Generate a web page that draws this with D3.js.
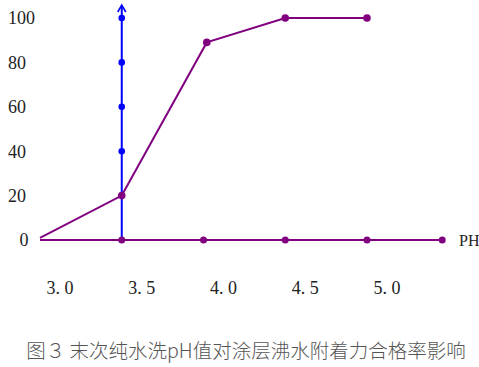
<!DOCTYPE html>
<html>
<head>
<meta charset="utf-8">
<script src="https://cdn.jsdelivr.net/npm/d3@7"></script>
<style>
  html, body { margin: 0; padding: 0; background: #fff; }
  svg { display: block; }
  .serif { font-family: "Liberation Serif", "Times New Roman", "DejaVu Serif", serif; }
  .cjk { font-family: "Noto Sans CJK SC", sans-serif; }
</style>
</head>
<body>
<svg id="chart" width="479" height="367"></svg>
<script>
// ---- data ----
const linePH = [3.0, 3.5, 4.02, 4.5, 5.0];
const lineRate = [1, 20, 89, 100, 100];
const basePH = [3.0, 3.5, 4.0, 4.5, 5.0, 5.46];
const baseDotPH = [3.5, 4.0, 4.5, 5.0, 5.46];
const axisDotValues = [100, 80, 60, 40];
const yTickValues = [100, 80, 60, 40, 20, 0];
const xTickValues = [3.0, 3.5, 4.0, 4.5, 5.0];
const xTickLabels = ["3. 0", "3. 5", "4. 0", "4. 5", "5. 0"];
const xAxisName = "PH";
const title = "图３ 末次纯水洗pH值对涂层沸水附着力合格率影响";

const purple = "#800080";
const blue = "#0000ff";

const svg = d3.select("#chart");
const x = d3.scaleLinear().domain([3.0, 5.0]).range([40, 367]);
const y = d3.scaleLinear().domain([0, 100]).range([240, 18]);

// baseline
svg.append("line")
  .attr("x1", x(d3.min(basePH))).attr("x2", x(d3.max(basePH)))
  .attr("y1", y(0)).attr("y2", y(0))
  .attr("stroke", purple).attr("stroke-width", 2);

// vertical blue axis at pH 3.5
const ax = x(3.5);
svg.append("line")
  .attr("x1", ax).attr("x2", ax)
  .attr("y1", y(0)).attr("y2", 6)
  .attr("stroke", blue).attr("stroke-width", 2);
svg.append("path")
  .attr("d", `M${ax - 4},${12} L${ax},${5} L${ax + 4},${12}`)
  .attr("fill", "none").attr("stroke", blue).attr("stroke-width", 1.6);
svg.selectAll(".adot").data(axisDotValues).enter().append("circle")
  .attr("cx", ax).attr("cy", d => y(d)).attr("r", 3.3).attr("fill", blue);

// purple line
const pts = linePH.map((p, i) => [p, lineRate[i]]);
svg.append("path")
  .datum(pts)
  .attr("d", d3.line().x(d => x(d[0])).y(d => y(d[1])))
  .attr("fill", "none").attr("stroke", purple).attr("stroke-width", 2);
svg.selectAll(".ldot").data(pts.slice(1)).enter().append("circle")
  .attr("cx", d => x(d[0])).attr("cy", d => y(d[1])).attr("r", 3.8).attr("fill", purple);

// baseline dots
svg.selectAll(".bdot").data(baseDotPH).enter().append("circle")
  .attr("cx", d => x(d)).attr("cy", y(0)).attr("r", 3.5).attr("fill", purple);

// y tick labels
svg.selectAll(".ylab").data(yTickValues).enter().append("text")
  .attr("class", "serif")
  .attr("x", d => d === 0 ? 24 : 8)
  .attr("y", d => y(d))
  .attr("dy", "0.35em")
  .attr("text-anchor", d => d === 0 ? "middle" : "start")
  .attr("font-size", 18)
  .attr("fill", "#222")
  .text(d => d);

// x tick labels
svg.selectAll(".xlab").data(xTickValues).enter().append("text")
  .attr("class", "serif")
  .attr("x", d => x(d) + 20)
  .attr("y", 294)
  .attr("text-anchor", "middle")
  .attr("font-size", 18)
  .attr("fill", "#222")
  .text((d, i) => xTickLabels[i]);

// x axis name
svg.append("text")
  .attr("class", "serif")
  .attr("x", 459).attr("y", 246)
  .attr("font-size", 16)
  .attr("fill", "#222")
  .text(xAxisName);

// title
svg.append("text")
  .attr("class", "cjk")
  .attr("x", 246).attr("y", 358)
  .attr("text-anchor", "middle")
  .attr("font-size", 19.5)
  .attr("font-weight", 300)
  .attr("fill", "#555")
  .text(title);
</script>
</body>
</html>
